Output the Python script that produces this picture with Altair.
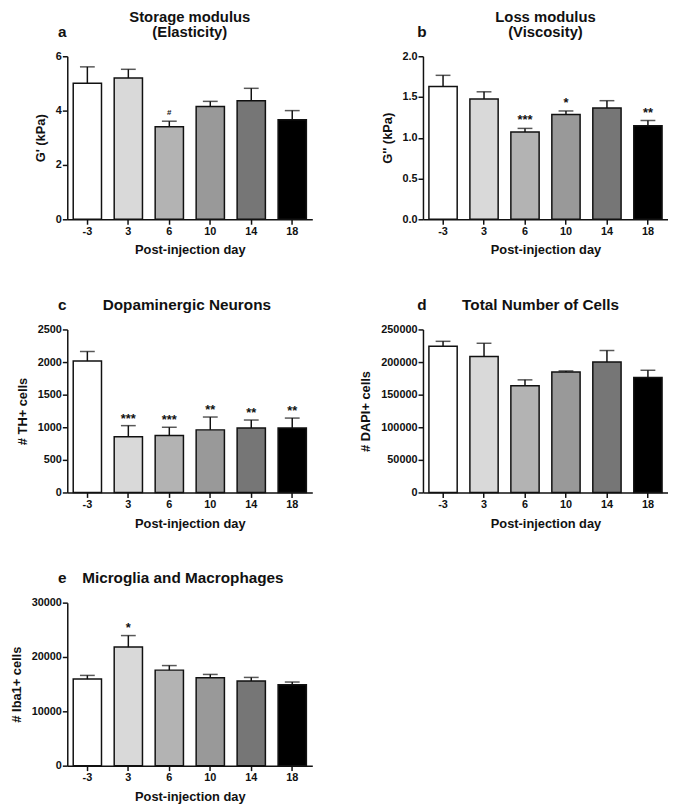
import altair as alt
import pandas as pd

days = ["-3", "3", "6", "10", "14", "18"]
fills = ["#ffffff", "#d9d9d9", "#b3b3b3", "#999999", "#767676", "#000000"]

storage_mean = [5.01, 5.20, 3.41, 4.15, 4.36, 3.66]
storage_upper = [5.61, 5.52, 3.61, 4.34, 4.82, 4.00]
storage_marks = ["", "", "#", "", "", ""]

loss_mean = [1.63, 1.475, 1.07, 1.285, 1.365, 1.147]
loss_upper = [1.766, 1.564, 1.115, 1.329, 1.455, 1.212]
loss_marks = ["", "", "***", "*", "", "**"]

th_mean = [2015, 853, 874, 960, 990, 990]
th_upper = [2162, 1025, 1000, 1157, 1111, 1141]
th_marks = ["", "***", "***", "**", "**", "**"]

dapi_mean = [224200, 208600, 163600, 184800, 200000, 176300]
dapi_upper = [231800, 228800, 172700, 186400, 217700, 187400]
dapi_marks = ["", "", "", "", "", ""]

iba_mean = [15940, 21820, 17580, 16180, 15580, 14910]
iba_upper = [16610, 23940, 18420, 16790, 16240, 15390]
iba_marks = ["", "*", "", "", "", ""]

FONT = "Liberation Sans"
INK = "#111111"
W, H = 248, 165


def label_text(text, px, py, size=15.5):
    return alt.Chart(pd.DataFrame({"t": [text]})).mark_text(
        font=FONT, fontWeight="bold", fontSize=size, align="center",
        baseline="middle", color=INK).encode(
        text="t:N", x=alt.value(px), y=alt.value(py))


def panel(letter, title_lines, title_x, ytitle, mean, upper, marks, ticks,
          fmt, mark_size, mark_dy, letter_x):
    df = pd.DataFrame({"day": days, "mean": mean, "upper": upper,
                       "mark": marks, "fill": fills})
    xs = alt.Scale(paddingInner=0.31, paddingOuter=0.145)
    ys = alt.Scale(domain=[ticks[0], ticks[-1]], nice=False)
    xa = alt.Axis(title="Post-injection day", labelAngle=0)
    ya = alt.Axis(values=ticks, format=fmt, title=ytitle,
                  labelOverlap=False, tickCount=len(ticks))
    x = alt.X("day:N", sort=days, scale=xs, axis=xa)
    base = alt.Chart(df)
    bars = base.mark_bar(stroke=INK, strokeWidth=1.5).encode(
        x=x, y=alt.Y("mean:Q", scale=ys, axis=ya),
        fill=alt.Fill("fill:N", scale=None))
    stem = base.mark_rule(color=INK, strokeWidth=1.5).encode(
        x=x, y=alt.Y("mean:Q", scale=ys, axis=ya), y2="upper:Q")
    cap = base.mark_tick(color=INK, thickness=1.5, size=15).encode(
        x=x, y=alt.Y("upper:Q", scale=ys, axis=ya))
    txt = base.mark_text(font=FONT, fontWeight="bold", fontSize=mark_size,
                         baseline="alphabetic", dy=mark_dy, color=INK).encode(
        x=x, y=alt.Y("upper:Q", scale=ys, axis=ya), text="mark:N")
    layers = [bars, stem, cap, txt, label_text(letter, letter_x, -25)]
    if len(title_lines) == 2:
        layers.append(label_text(title_lines[0], title_x, -40, 15))
        layers.append(label_text(title_lines[1], title_x, -25, 15))
    else:
        layers.append(label_text(title_lines[0], title_x, -25))
    return alt.layer(*layers).properties(width=W, height=H)


pa = panel("a", ["Storage modulus", "(Elasticity)"], 124, "G' (kPa)",
           storage_mean, storage_upper, storage_marks, [0, 2, 4, 6], "d",
           8, -6, -5)
pb = panel("b", ["Loss modulus", "(Viscosity)"], 124, "G'' (kPa)",
           loss_mean, loss_upper, loss_marks, [0, 0.5, 1.0, 1.5, 2.0], ".1f",
           13, -4, -1)
pc = panel("c", ["Dopaminergic Neurons"], 121, "# TH+ cells",
           th_mean, th_upper, th_marks, [0, 500, 1000, 1500, 2000, 2500], "d",
           13, -3, -5)
pd_ = panel("d", ["Total Number of Cells"], 119, "# DAPI+ cells",
            dapi_mean, dapi_upper, dapi_marks,
            [0, 50000, 100000, 150000, 200000, 250000], "d", 13, -3, -1)
pe = panel("e", ["Microglia and Macrophages"], 117, "# Iba1+ cells",
           iba_mean, iba_upper, iba_marks, [0, 10000, 20000, 30000], "d",
           13, -4, -5)

chart = alt.concat(pa, pb, pc, pd_, pe, columns=2,
                   spacing={"row": 41.5, "column": 48}).properties(
    align="each", padding={"left": 2, "top": -3, "right": 0, "bottom": 0}
).configure_view(stroke=None).configure_axis(
    grid=False, domainColor=INK, domainWidth=1.5, tickColor=INK,
    tickWidth=1.5, tickSize=5, labelPadding=1, labelFont=FONT,
    labelFontWeight="bold", labelFontSize=11, labelColor=INK,
    labelOverlap=False,
    titleFont=FONT, titleFontWeight="bold", titleFontSize=13,
    titleColor=INK, titlePadding=8
)

chart.save("out.html", embed_options={"renderer": "svg", "actions": False})
